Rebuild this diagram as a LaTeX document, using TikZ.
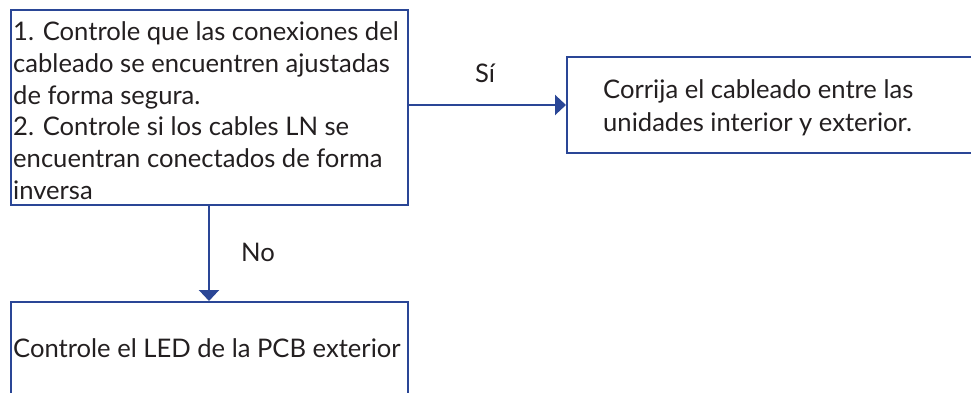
\documentclass[tikz,border=0pt]{standalone}
\usepackage{fontspec}
\setmainfont{Lato}
\usetikzlibrary{arrows.meta}
\definecolor{flowblue}{RGB}{42,70,150}
\definecolor{txtgray}{RGB}{35,31,32}
\begin{document}
\begin{tikzpicture}[x=1pt,y=1pt,
  box/.style={draw=flowblue,line width=2.2pt,rectangle,inner sep=0pt,anchor=north west},
  txt/.style={text=txtgray,font=\fontsize{25.6}{31.8}\selectfont,inner sep=0pt,align=left},
  lbl/.style={text=txtgray,font=\fontsize{25.6}{31.8}\selectfont,inner sep=0pt,anchor=base},
  conn/.style={draw=flowblue,line width=2.2pt,-{Triangle[width=20pt,length=11pt]}}]
\useasboundingbox (0,0) rectangle (971,-393);
% boxes
\node[box,minimum width=397pt,minimum height=195pt] (b1) at (10,-9) {};
\node[box,minimum width=430pt,minimum height=96pt] (b2) at (566,-56) {};
\node[box,minimum width=397pt,minimum height=130pt] (b3) at (10,-301) {};
% texts
\node[txt,anchor=north west] (t1) at (13,-21.5) {1. Controle que las conexiones del\\cableado se encuentren ajustadas\\de forma segura.\\2. Controle si los cables LN se\\encuentran conectados de forma\\inversa};
\node[txt,anchor=north west,font=\fontsize{25.6}{33}\selectfont] (t2) at (603,-79) {Corrija el cableado entre las\\unidades interior y exterior.};
\node[lbl,anchor=base west] (t3) at (13,-357) {Controle el LED de la PCB exterior};
% connectors
\draw[conn] (b1.east |- 0,-105) -- (b2.west |- 0,-105);
\draw[conn] (b1.south -| 209,0) -- (b3.north -| 209,0);
\node[lbl] (si) at (485,-83) {Sí};
\node[lbl] (no) at (258,-261) {No};
\end{tikzpicture}
\end{document}
